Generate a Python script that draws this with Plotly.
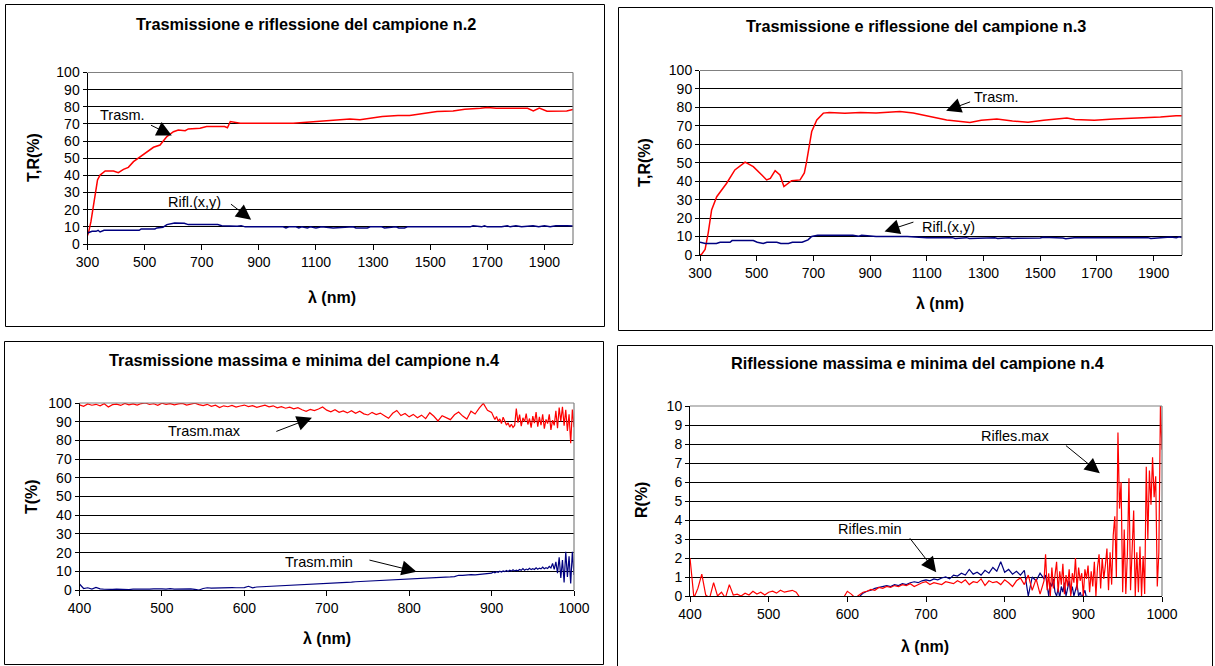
import plotly.graph_objects as go

W, H = 1215, 666
FONT = "Liberation Sans, Arial, sans-serif"
RED = "#FF0000"
NAVY = "#000080"

# ---------------- sample n.2 : transmission / reflection ----------------
wl_t2 = [300, 303, 312, 321, 335, 344, 362, 391, 408, 426, 443, 461, 484, 507, 531, 554, 578, 601, 618, 642,
         653, 694, 717, 780, 790, 800, 835, 904, 1020, 1102, 1195, 1219, 1254, 1291, 1332, 1387, 1428, 1470, 1497, 1524,
         1580, 1621, 1676, 1700, 1731, 1841, 1861, 1882, 1909, 1978, 2000]
trasm_2 = [5.0, 6.2, 13, 21.8, 37.3, 40.2, 42.6, 42.6, 41.6, 43.5, 44.7, 48.0, 50.9, 53.8, 56.4, 57.7, 62.6, 65.5, 66.5, 66.1,
           67.1, 67.5, 68.5, 68.5, 67.8, 71.4, 70.4, 70.4, 70.4, 71.4, 72.3, 72.9, 72.4, 73.5, 74.3, 75.0, 75.0, 76.0, 76.6, 77.2,
           77.6, 78.6, 79.1, 79.6, 79.1, 79.1, 77.6, 79.3, 77.4, 77.6, 78.5]

wl_r2 = [300, 316, 330, 337, 344, 358, 481, 488, 536, 543, 564, 578, 605, 639, 653, 756, 770, 824, 838, 852,
         985, 995, 1005, 1030, 1040, 1050, 1070, 1080, 1100, 1120, 1160, 1200, 1230, 1240, 1280, 1290, 1330, 1340, 1380, 1390,
         1410, 1420, 1640, 1650, 1680, 1690, 1700, 1750, 1770, 1780, 1800, 1820, 1860, 1880, 1900, 1920, 1940, 1980, 2000]
rifl_2 = [6.4, 7.4, 7.4, 8.0, 7.0, 8.0, 8.0, 8.8, 8.8, 9.4, 9.7, 11.3, 12.3, 12.1, 11.3, 11.3, 10.7, 10.3, 10.7, 10.0,
          10.0, 9.3, 10.0, 10.0, 9.3, 10.0, 9.4, 10.0, 9.3, 10.0, 9.4, 9.5, 10.0, 9.4, 9.4, 10.0, 10.0, 9.4, 10.0, 9.4,
          9.4, 10.0, 10.0, 10.6, 10.0, 10.6, 10.0, 10.0, 10.6, 10.0, 10.6, 10.0, 10.6, 10.0, 10.6, 10.0, 10.6, 10.6, 10.5]

# ---------------- sample n.3 : transmission / reflection ----------------
wl_t3 = [300, 306, 318, 329, 341, 359, 394, 423, 459, 488, 518, 535, 548, 565, 582, 596, 623, 653, 668, 676,
         694, 712, 735, 756, 811, 866, 921, 1005, 1052, 1111, 1170, 1203, 1252, 1292, 1347, 1402, 1457, 1512, 1594, 1622,
         1691, 1759, 1856, 1924, 1979, 2000]
trasm_3 = [0.0, 0.5, 3.0, 12.0, 24.4, 31.6, 38.9, 46.1, 50.3, 47.9, 43.4, 40.7, 41.5, 45.7, 43.4, 37.1, 40.3, 40.7, 44.5, 50.6,
           66.9, 73.2, 76.9, 77.2, 76.8, 77.2, 77.0, 77.8, 77.0, 75.1, 73.2, 72.6, 71.8, 73.0, 73.7, 72.6, 71.9, 73.0, 74.3, 73.4,
           73.0, 73.7, 74.3, 74.8, 75.5, 75.5]

wl_r3 = [300, 319, 358, 371, 406, 413, 488, 502, 523, 536, 571, 585, 612, 626, 660, 681, 694, 715, 839, 860,
         870, 921, 1031, 1100, 1190, 1200, 1240, 1250, 1340, 1350, 1390, 1400, 1500, 1510, 1580, 1590, 1620, 1630, 1780, 1790,
         1880, 1890, 1950, 1960, 1980, 1990, 2000]
rifl_3 = [6.9, 6.2, 6.2, 6.9, 6.9, 7.8, 7.8, 6.9, 6.2, 6.9, 6.9, 6.2, 6.2, 6.9, 6.9, 8.2, 10.0, 10.7, 10.7, 10.2,
          10.7, 10.0, 10.0, 9.4, 9.4, 8.9, 9.4, 8.9, 9.4, 9.0, 9.4, 9.0, 9.2, 9.6, 9.2, 8.8, 9.4, 9.4, 9.4, 9.8,
          9.4, 8.9, 9.4, 9.8, 9.4, 9.9, 9.5]

# ---------------- sample n.4 : max / min transmission ----------------
wl_t4 = list(range(400, 900, 5)) + list(range(900, 1001, 2))
trasm_max_4 = [
    99.0, 98.2, 99.5, 98.8, 99.3, 98.5, 99.6, 97.9, 99.1, 99.4,
    98.7, 99.8, 99.0, 99.5, 98.9, 99.7, 100.0, 99.2, 99.6, 98.8,
    99.9, 99.3, 99.7, 99.0, 99.5, 99.8, 98.9, 99.4, 99.9, 99.1,
    98.6, 99.3, 98.2, 98.8, 97.6, 98.5, 98.0, 98.7, 97.8, 98.4,
    98.9, 98.1, 98.6, 97.7, 98.3, 98.8, 97.9, 98.5, 97.4, 98.0,
    97.2, 97.8, 96.9, 97.5, 96.4, 95.6, 96.6, 95.9, 96.8, 97.9,
    96.2, 95.3, 96.4, 95.0, 95.8, 94.7, 95.9, 94.5, 95.6, 94.2,
    93.6, 95.0, 93.8, 94.6, 93.2, 91.8, 94.5, 96.0, 93.3, 94.4,
    92.6, 93.9, 92.1, 93.5, 91.6, 94.8, 92.9, 90.4, 93.2, 92.0,
    91.1, 93.7, 95.2, 93.0, 91.4, 95.6, 94.1, 97.3, 99.8, 96.1,
    95.0, 93.1, 91.2, 92.8, 90.3, 91.5, 89.0, 92.4, 90.1, 88.2,
    89.4, 87.1, 88.6, 86.9, 88.0, 97.0, 89.5, 93.8, 87.6, 92.1,
    89.9, 94.3, 88.5, 91.7, 86.8, 93.0, 89.2, 95.1, 87.4, 92.6,
    88.1, 94.0, 86.3, 91.2, 89.0, 93.9, 85.6, 90.8, 88.0, 95.8,
    86.5, 97.6, 90.2, 98.0, 87.9, 96.3, 85.0, 94.0, 78.5, 96.5,
    87.0]
trasm_min_4 = [
    3.2, 0.8, 1.2, 0.5, 1.4, 0.6, 0.4, 0.2, 0.3, 0.5,
    0.3, 0.4, 0.2, 0.5, 0.4, 0.6, 0.3, 0.5, 0.6, 0.4,
    0.6, 0.5, 0.7, 0.5, 0.6, 0.7, 0.5, 0.6, 0.3, 0.0,
    0.8, 1.2, 1.0, 1.1, 1.0, 1.2, 1.1, 1.3, 1.2, 1.3,
    1.3, 2.0, 1.2, 1.6, 1.7, 1.8, 1.8, 1.9, 2.0, 2.1,
    2.2, 2.4, 2.5, 2.6, 2.7, 2.9, 3.0, 3.2, 3.3, 3.5,
    3.6, 3.7, 3.8, 3.9, 4.0, 4.1, 4.2, 4.4, 4.5, 4.6,
    4.8, 5.0, 5.1, 5.1, 5.3, 5.4, 5.5, 5.6, 5.6, 5.7,
    5.7, 5.9, 6.0, 6.0, 6.2, 6.4, 6.5, 6.6, 6.7, 6.9,
    7.0, 7.2, 7.9, 7.8, 8.1, 8.2, 8.1, 8.4, 8.5, 8.8,
    9.0, 9.6, 9.2, 9.8, 9.4, 10.0, 9.6, 10.2, 9.8, 10.4,
    9.9, 10.6, 10.1, 10.8, 10.2, 10.6, 10.3, 11.0, 10.5, 11.4,
    10.6, 11.2, 10.8, 11.6, 10.9, 11.4, 11.0, 11.9, 11.1, 11.7,
    11.3, 12.2, 11.4, 11.9, 11.5, 12.6, 11.8, 14.2, 11.0, 15.0,
    9.0, 17.5, 6.5, 16.0, 4.0, 20.5, 7.0, 18.0, 3.5, 20.5,
    8.0]

# ---------------- sample n.4 : max / min reflection ----------------
wl_rmax = list(range(400, 850, 5)) + list(range(850, 1001, 2))
rifles_max_4 = [
    2.0, -0.1, 0.4, 1.15, 0.05, -0.1, 0.7, 0.0, 0.2, -0.1,
    0.6, 0.05, 0.1, 0.0, 0.15, 0.05, 0.25, 0.1, 0.2, 0.05,
    0.2, 0.25, 0.15, 0.3, 0.2, 0.25, 0.3, 0.2, -0.1, -0.2,
    -0.2, -0.2, -0.2, -0.2, -0.2, -0.2, -0.2, -0.2, -0.2, -0.1,
    0.25, 0.1, -0.1, 0.05, 0.2, 0.25, 0.35, 0.3, 0.45, 0.4,
    0.5, 0.45, 0.55, 0.5, 0.6, 0.55, 0.65, 0.5, 0.6, 0.7,
    0.75, 0.6, 0.7, 0.65, 0.6, 0.75, 0.7, 0.65, 0.8, 0.7,
    0.85, 0.6, 0.75, 0.7, 0.9, 0.55, 0.8, 0.7, 0.75, 0.6,
    0.85, 0.7, 0.5, 0.8, 0.95, 0.6, 1.1, 0.3, 0.9, 0.1,
    0.8, 2.2, 0.3, 1.2, 0.0, 1.5, 0.4, 1.0, 1.8, 0.2,
    1.3, 0.6, 1.7, 0.1, 1.1, 0.5, 1.4, 0.0, 1.2, 0.7,
    2.0, 0.3, 1.5, 0.8, 1.2, 0.0, 1.4, 0.9, 1.6, 0.2,
    1.3, 0.5, 1.8, 0.0, 1.5, 2.2, 0.4, 2.0, 0.9, 1.6,
    2.5, 0.3, 2.3, 0.6, 3.2, 4.2, 1.0, 8.6, 4.6, 6.0,
    0.2, 3.5, 0.1, 2.2, 6.2, 0.3, 2.8, 4.5, 0.0, 2.3,
    0.2, 2.6, 0.0, 2.1, 0.1, 6.8, 3.0, 6.6, 4.8, 7.3,
    5.2, 6.3, 0.5, 2.3, 10.0, 7.7]

wl_rmin = list(range(615, 850, 5)) + list(range(850, 907, 2))
rifles_min_4 = [
    -0.05, 0.15, 0.25, 0.3, 0.4, 0.45, 0.5, 0.55, 0.5, 0.6,
    0.55, 0.65, 0.6, 0.7, 0.75, 0.7, 0.8, 0.85, 0.8, 0.9,
    0.85, 0.95, 1.0, 0.9, 1.1, 1.05, 1.2, 1.1, 1.4, 1.15,
    1.25, 1.1, 1.35, 1.2, 1.5, 1.3, 1.8, 1.25, 1.4, 1.15,
    1.3, 1.1, 1.35, 0.0, 1.0, 0.8, 1.2,
    0.9, 1.1, 0.6, 0.0, 0.7, 0.5, 0.9, 0.2, 0.0, 0.4,
    -0.1, 0.5, 0.2, 0.7, 0.0, 0.4, 0.8, 0.1, 0.5, 0.0,
    0.3, 0.6, 0.0, 0.2, -0.1, 0.1, 0.3, -0.1, 0.0]

x_ticks_wide = list(range(300, 2000, 200))
x_ticks_narrow = list(range(400, 1001, 100))


def X(px):
    return px / W


def Y(py):
    return 1 - py / H


fig = go.Figure()

# (axis suffix, x-domain px, y-domain px, x range, x ticks, y range, y step)
panels = [
    ("", (87.5, 573), (72.5, 244), [300, 2000], x_ticks_wide, [0, 100], 10),
    ("2", (700, 1182), (70.5, 255), [300, 2000], x_ticks_wide, [0, 100], 10),
    ("3", (79.5, 574), (403, 590), [400, 1000], x_ticks_narrow, [0, 100], 10),
    ("4", (690, 1162), (406, 596), [400, 1000], x_ticks_narrow, [0, 10], 1),
]

tickfont = dict(family=FONT, size=14, color="black")
shapes = []


def seg(x0, y0, x1, y1, color="black", width=1, layer="above"):
    shapes.append(dict(type="line", xref="paper", yref="paper",
                       x0=X(x0), x1=X(x1), y0=Y(y0), y1=Y(y1),
                       line=dict(color=color, width=width), layer=layer))


for suf, (xl, xr), (yt, yb), xr_, xt, yr_, ys in panels:
    fig.layout["xaxis" + suf] = dict(
        domain=[X(xl), X(xr)], range=xr_, anchor="y" + suf,
        tickvals=xt, ticktext=[str(v) for v in xt],
        showgrid=False, zeroline=False, showline=True, linecolor="black", linewidth=1,
        ticks="outside", ticklen=5, tickcolor="black", tickwidth=1, tickfont=tickfont,
        automargin=False, fixedrange=True)
    fig.layout["yaxis" + suf] = dict(
        domain=[Y(yb), Y(yt)], range=yr_, anchor="x" + suf,
        dtick=ys, tick0=0,
        showgrid=True, gridcolor="black", gridwidth=1,
        zeroline=False, showline=True, linecolor="black", linewidth=1,
        ticks="outside", ticklen=4, tickcolor="black", tickwidth=1, tickfont=tickfont,
        automargin=False, fixedrange=True)
    # grey top and right edges of the plotting area
    seg(xl, yt, xr, yt, "#808080", 1.2)
    seg(xr, yb, xr, yt, "#808080", 1.2)

# outer frames around each chart (the last one runs off the bottom edge)
for (l, t, r, b) in [(5.5, 4.5, 604.5, 326.5), (618.5, 7.5, 1212.5, 330.5),
                     (4.5, 341.5, 603.5, 664.5)]:
    seg(l, t, r, t)
    seg(l, b, r, b)
    seg(l, t, l, b)
    seg(r, t, r, b)
seg(617.5, 345.5, 1212.5, 345.5)
seg(617.5, 345.5, 617.5, 666)
seg(1212.5, 345.5, 1212.5, 666)


def line(x, y, color, axis, width=1.5):
    fig.add_trace(go.Scatter(x=x, y=y, mode="lines", line=dict(color=color, width=width),
                             xaxis="x" + axis, yaxis="y" + axis, showlegend=False,
                             hoverinfo="skip"))


line(wl_t2, trasm_2, RED, "")
line(wl_r2, rifl_2, NAVY, "")
line(wl_t3, trasm_3, RED, "2")
line(wl_r3, rifl_3, NAVY, "2")
line(wl_t4, trasm_max_4, RED, "3", 1.2)
line(wl_t4, trasm_min_4, NAVY, "3", 1.2)
line(wl_rmin, rifles_min_4, NAVY, "4", 1.2)
line(wl_rmax, rifles_max_4, RED, "4", 1.2)

ann = []
titles = [
    ("Trasmissione e riflessione del campione n.2", 306, 24),
    ("Trasmissione e riflessione del campione n.3", 916, 26.5),
    ("Trasmissione massima e minima del campione n.4", 304, 360),
    ("Riflessione massima e minima del campione n.4", 917, 363),
]
for txt, cx, cy in titles:
    ann.append(dict(text="<b>%s</b>" % txt, xref="paper", yref="paper", x=X(cx), y=Y(cy),
                    xanchor="center", yanchor="middle", showarrow=False,
                    font=dict(family=FONT, size=16.3, color="black")))

axis_titles = [
    ("T,R(%)", 33, 158, -90), ("λ (nm)", 332, 297, 0),
    ("T,R(%)", 644, 163, -90), ("λ (nm)", 940, 304, 0),
    ("T(%)", 31, 497, -90), ("λ (nm)", 327, 638, 0),
    ("R(%)", 642, 500, -90), ("λ (nm)", 925, 646, 0),
]
for txt, cx, cy, ang in axis_titles:
    ann.append(dict(text="<b>%s</b>" % txt, xref="paper", yref="paper", x=X(cx), y=Y(cy),
                    xanchor="center", yanchor="middle", showarrow=False, textangle=ang,
                    font=dict(family=FONT, size=16, color="black")))

# series labels and their pointer arrows (data coordinates)
labels = [
    ("Trasm.", "", 424, 75.5, (517, 69.7), (595, 63.3)),
    ("Rifl.(x,y)", "", 673, 24.5, (797, 23.9), (873, 14.2)),
    ("Trasm.", "2", 1347, 85.5, (1258, 83.3), (1168, 78.2)),
    ("Rifl.(x,y)", "2", 1175, 15.2, (1058, 18.1), (951, 12.7)),
    ("Trasm.max", "3", 552, 84.8, (637, 84.5), (682, 92.1)),
    ("Trasm.min", "3", 691, 14.9, (750, 16.2), (809, 9.8)),
    ("Rifles.max", "4", 813, 8.42, (876, 7.98), (921, 6.46)),
    ("Rifles.min", "4", 629, 3.53, (678, 3.12), (713, 1.25)),
]
for txt, suf, tx, ty, tail, tip in labels:
    ann.append(dict(text=txt, xref="x" + suf, yref="y" + suf, x=tx, y=ty,
                    xanchor="center", yanchor="middle", showarrow=False,
                    font=dict(family=FONT, size=14.5, color="black")))
    ann.append(dict(text="", xref="x" + suf, yref="y" + suf, x=tip[0], y=tip[1],
                    axref="x" + suf, ayref="y" + suf, ax=tail[0], ay=tail[1],
                    showarrow=True, arrowhead=2, arrowsize=3, arrowwidth=1,
                    arrowcolor="black"))

fig.update_layout(template="none", width=W, height=H, autosize=False,
                  margin=dict(l=0, r=0, t=0, b=0, pad=0, autoexpand=False),
                  paper_bgcolor="white", plot_bgcolor="white",
                  shapes=shapes, annotations=ann, showlegend=False,
                  font=dict(family=FONT, color="black"))

fig.write_html("out.html", config={"displayModeBar": False})
